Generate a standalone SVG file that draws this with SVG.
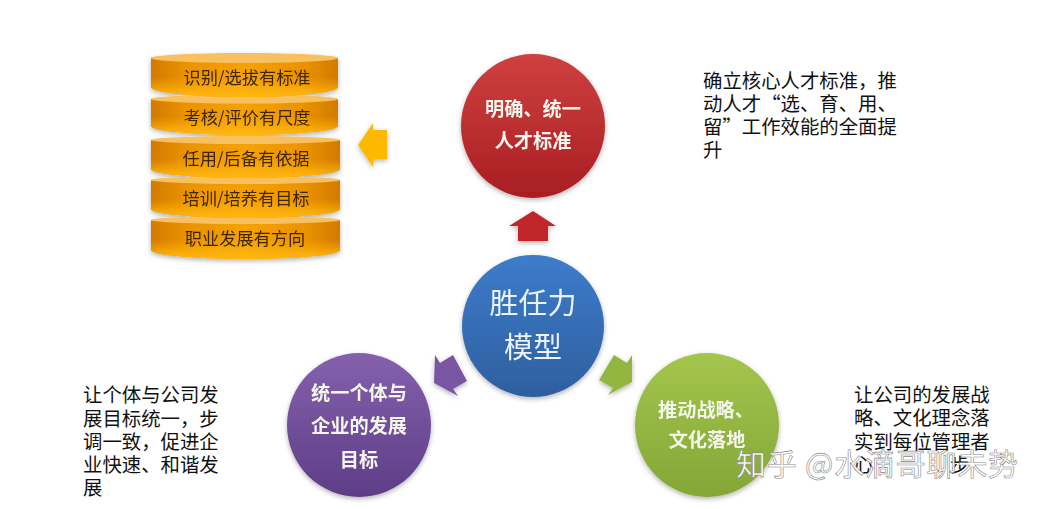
<svg xmlns="http://www.w3.org/2000/svg" width="1047" height="509" viewBox="0 0 1047 509">
<style>
text{font-family:"Noto Sans CJK SC","Liberation Sans",sans-serif}
.disc text{font-size:17.2px;fill:#3f2504;text-anchor:middle}
.top{fill:#f9c060}
.cap{font-size:19.2px;font-weight:700;fill:#f4f6ec;text-anchor:middle}
.note{font-size:19.4px;fill:#111}
.bn{font-size:29px;fill:#eaf2fb;text-anchor:middle}
.wm{fill:#fff;stroke:#8a8a8a;stroke-width:.6;font-size:30px}
</style>
<defs>
<linearGradient id="body" x1="0" x2="1" y1="0" y2="0"><stop offset="0" stop-color="#d27a00"/><stop offset=".18" stop-color="#ea9200"/><stop offset=".5" stop-color="#f5a205"/><stop offset=".82" stop-color="#ea9200"/><stop offset="1" stop-color="#d27a00"/></linearGradient>
<linearGradient id="body2" x1="0" x2="0" y1="0" y2="1"><stop offset=".5" stop-color="#ffb80c" stop-opacity="0"/><stop offset="1" stop-color="#ffb80c"/></linearGradient>
<linearGradient id="red" x1="0" x2="0" y1="0" y2="1"><stop offset="0" stop-color="#cf4040"/><stop offset="1" stop-color="#a81e22"/></linearGradient>
<linearGradient id="blue" x1="0" x2="0" y1="0" y2="1"><stop offset="0" stop-color="#3d7ccb"/><stop offset="1" stop-color="#2e5f9f"/></linearGradient>
<linearGradient id="pur" x1="0" x2="0" y1="0" y2="1"><stop offset="0" stop-color="#8561ad"/><stop offset="1" stop-color="#5e3d86"/></linearGradient>
<linearGradient id="grn" x1="0" x2="0" y1="0" y2="1"><stop offset="0" stop-color="#a4c64e"/><stop offset="1" stop-color="#83a636"/></linearGradient>
<filter id="sh" x="-20%" y="-20%" width="140%" height="140%"><feDropShadow dx="0" dy="2" stdDeviation="2.500" flood-color="#000" flood-opacity=".3"/></filter>
</defs>
<rect width="1047" height="509" fill="#fff"/>

<g id="stack" class="disc" filter="url(#sh)">
<g id="disc5"><path d="M151 220V250A94.500 9 0 0 0 340 250V220Z" fill="url(#body)"/><path d="M151 220V250A94.500 9 0 0 0 340 250V220Z" fill="url(#body2)"/><ellipse class="top" cx="245.500" cy="220" rx="94.500" ry="4"/><text x="245" y="245">职业发展有方向</text></g>
<g id="disc4"><path d="M151 180V209A94.500 9 0 0 0 340 209V180Z" fill="url(#body)"/><path d="M151 180V209A94.500 9 0 0 0 340 209V180Z" fill="url(#body2)"/><ellipse class="top" cx="245.500" cy="180" rx="94.500" ry="4"/><text x="246" y="205">培训/培养有目标</text></g>
<g id="disc3"><path d="M151 140V169A94.500 9 0 0 0 340 169V140Z" fill="url(#body)"/><path d="M151 140V169A94.500 9 0 0 0 340 169V140Z" fill="url(#body2)"/><ellipse class="top" cx="245.500" cy="140" rx="94.500" ry="4"/><text x="246" y="165">任用/后备有依据</text></g>
<g id="disc2"><path d="M151 99V126A93.500 9 0 0 0 338 126V99Z" fill="url(#body)"/><path d="M151 99V126A93.500 9 0 0 0 338 126V99Z" fill="url(#body2)"/><ellipse class="top" cx="244.500" cy="99" rx="93.500" ry="4.500"/><text x="247" y="124">考核/评价有尺度</text></g>
<g id="disc1"><path d="M151 58V87A93.500 10 0 0 0 338 87V58Z" fill="url(#body)"/><path d="M151 58V87A93.500 10 0 0 0 338 87V58Z" fill="url(#body2)"/><ellipse class="top" cx="244.500" cy="58" rx="93.500" ry="5"/><text x="247" y="84">识别/选拔有标准</text></g>
</g>

<g id="connectors" filter="url(#sh)">
<path id="arrow-yellow" d="M358 145L373 123V130H387V159H373V167Z" fill="#fcb900"/>
<path id="arrow-red" d="M533 211L556 226H548V241H518V226H509Z" fill="#c1272b"/>
<path id="arrow-purple" d="M435 355L440 363L453 355L467 381L453 389L458 396L434 383Z" fill="#7a55a3"/>
<path id="arrow-green" d="M632 355L627 363L614 355L599 380L613 388L608 395L632 382Z" fill="#93b63f"/>
</g>

<g id="node-red" filter="url(#sh)"><circle cx="533" cy="126" r="72" fill="url(#red)"/><text class="cap" x="533" y="116">明确、统一</text><text class="cap" x="533" y="148">人才标准</text></g>
<g id="node-blue" filter="url(#sh)"><circle cx="533" cy="326" r="71" fill="url(#blue)"/><text class="bn" x="533" y="314">胜任力</text><text class="bn" x="533" y="358">模型</text></g>
<g id="node-purple" filter="url(#sh)"><circle cx="359" cy="425" r="72" fill="url(#pur)"/><text class="cap" x="359" y="400">统一个体与</text><text class="cap" x="359" y="433">企业的发展</text><text class="cap" x="359" y="467">目标</text></g>
<g id="node-green" filter="url(#sh)"><circle cx="707" cy="425" r="72" fill="url(#grn)"/><text class="cap" x="706" y="417">推动战略、</text><text class="cap" x="707" y="447">文化落地</text></g>

<g id="note-top" class="note"><text x="703" y="88">确立核心人才标准，推</text><text x="703" y="111">动人才“选、育、用、</text><text x="703" y="134">留”工作效能的全面提</text><text x="703" y="157">升</text></g>
<g id="note-left" class="note"><text x="83" y="402">让个体与公司发</text><text x="83" y="426">展目标统一，步</text><text x="83" y="449">调一致，促进企</text><text x="83" y="472">业快速、和谐发</text><text x="83" y="495">展</text></g>
<g id="note-right" class="note"><text x="854" y="402">让公司的发展战</text><text x="854" y="425">略、文化理念落</text><text x="854" y="449">实到每位管理者</text><text x="854" y="472">心</text><text x="950" y="472">步</text></g>
<text class="wm" x="736" y="475" textLength="282">知乎 @水滴哥聊未势</text>
</svg>
